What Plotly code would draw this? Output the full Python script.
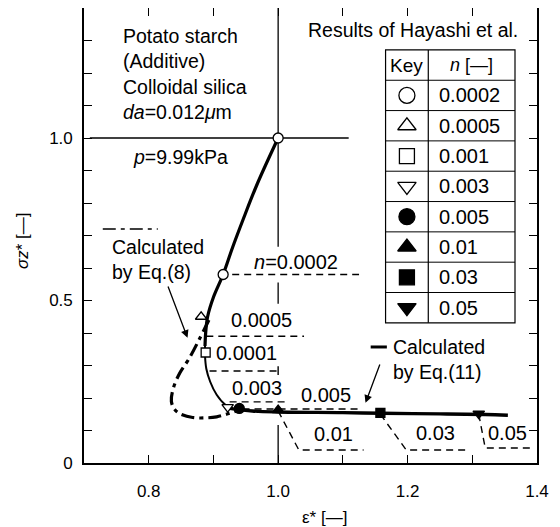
import plotly.graph_objects as go

# ---------------- data ----------------
# Calculated by Eq.(11) (solid curve), split by drawn thickness
eq11_upper_x = [1.0, 0.968, 0.946, 0.929, 0.915, 0.90, 0.891, 0.888, 0.887]
eq11_upper_y = [1.0, 0.86, 0.75, 0.66, 0.58, 0.51, 0.45, 0.40, 0.36]
eq11_bend_x = [0.887, 0.887, 0.889, 0.895, 0.905, 0.918, 0.93]
eq11_bend_y = [0.36, 0.33, 0.29, 0.25, 0.21, 0.18, 0.168]
eq11_flat_x = [0.925, 0.96, 1.0, 1.1, 1.16, 1.25, 1.32, 1.355]
eq11_flat_y = [0.168, 0.16, 0.157, 0.155, 0.153, 0.151, 0.149, 0.147]

# Calculated by Eq.(8) (dash-dot curve)
eq8_x = [0.893, 0.878, 0.862, 0.848, 0.838, 0.835, 0.84, 0.848, 0.868, 0.89, 0.905, 0.92, 0.935]
eq8_y = [0.44, 0.38, 0.32, 0.277, 0.23, 0.19, 0.165, 0.152, 0.14, 0.139, 0.142, 0.15, 0.16]

# Results of Hayashi et al. (experimental points), one per n
n_labels = ["0.0002", "0.0005", "0.001", "0.003", "0.005", "0.01", "0.03", "0.05"]
exp_x = [[1.0, 0.915], [0.881], [0.888], [0.922], [0.94], [1.0], [1.158], [1.31]]
exp_y = [[1.0, 0.58], [0.45], [0.34], [0.172], [0.168], [0.163], [0.154], [0.152]]
symbols = ["circle", "triangle-up", "square", "triangle-down",
           "circle", "triangle-up", "square", "triangle-down"]
filled = [False, False, False, False, True, True, True, True]

# reference lines eps*=1.0 and sigma*=1.0
ref_v_x = [1.0, 1.0, None, 1.0, 1.0, None, 1.0, 1.0]
ref_v_y = [1.4, 0.665, None, 0.555, 0.49, None, 0.117, 0.0]
ref_h_x = [0.709, 1.109]
ref_h_y = [1.0, 1.0]

# leader lines (dashed) for n labels
leader_x = [[0.929, 1.125], [0.889, 1.04], [0.894, 0.998], [0.925, 1.012], [0.945, 1.125],
            [1.0, 1.032, 1.132], [1.158, 1.198, 1.294], [1.31, 1.32, 1.394]]
leader_y = [[0.58, 0.58], [0.39, 0.39], [0.283, 0.283], [0.188, 0.188], [0.166, 0.166],
            [0.16, 0.04, 0.04], [0.15, 0.04, 0.04], [0.15, 0.046, 0.046]]
tick_x = [1.0, 1.0]
tick_y = [0.298, 0.271]

leader_text = ["<i>n</i>=0.0002", "0.0005", "0.0001", "0.003", "0.005", "0.01", "0.03", "0.05"]
leader_text_x = [1.028, 0.975, 0.951, 0.968, 1.074, 1.086, 1.243, 1.354]
leader_text_y = [0.618, 0.44, 0.338, 0.231, 0.209, 0.089, 0.092, 0.092]

x_tickvals = [0.8, 0.9, 1.0, 1.1, 1.2, 1.3, 1.4]
x_ticktext = ["0.8", "", "1.0", "", "1.2", "", "1.4"]
y_tickvals = [0.0, 0.1, 0.2, 0.3, 0.4, 0.5, 0.6, 0.7, 0.8, 0.9, 1.0, 1.1, 1.2, 1.3]
y_ticktext = ["0", "", "", "", "", "0.5", "", "", "", "", "1.0", "", "", ""]

# key table geometry (data units)
table_x = [1.166, 1.232, 1.366]
table_top = 1.271
row_h = 0.0933

FONT = "Liberation Sans"
fig = go.Figure()

def line(x, y, width, dash="solid", shape="linear"):
    fig.add_trace(go.Scatter(x=x, y=y, mode="lines", showlegend=False, hoverinfo="skip",
                             line=dict(color="black", width=width, dash=dash, shape=shape)))

line(ref_v_x, ref_v_y, 1.3)
line(ref_h_x, ref_h_y, 1.3)
for lx, ly in zip(leader_x, leader_y):
    line(lx, ly, 1.4, dash="7px,5px")
line(tick_x, tick_y, 1.4)

line(eq8_x, eq8_y, 3.2, dash="13px,5px,4px,5px", shape="spline")
line(eq11_upper_x, eq11_upper_y, 3.2, shape="spline")
line(eq11_bend_x, eq11_bend_y, 2.0, shape="spline")
line(eq11_flat_x, eq11_flat_y, 3.4, shape="spline")

for i in range(len(n_labels)):
    fig.add_trace(go.Scatter(
        x=exp_x[i], y=exp_y[i], mode="markers", showlegend=False, hoverinfo="skip",
        marker=dict(symbol=symbols[i], size=10 if symbols[i] != "square" else 9,
                    color="black" if filled[i] else "white",
                    line=dict(color="black", width=1.3))))

# key table
shapes = []
n_rows = len(n_labels) + 1
bottom = table_top - n_rows * row_h
shapes.append(dict(type="rect", xref="x", yref="y", x0=table_x[0], x1=table_x[2],
                   y0=bottom, y1=table_top, line=dict(color="black", width=1.2),
                   fillcolor="rgba(0,0,0,0)", layer="above"))
shapes.append(dict(type="line", xref="x", yref="y", x0=table_x[1], x1=table_x[1],
                   y0=bottom, y1=table_top, line=dict(color="black", width=1.2)))
for r in range(1, n_rows):
    yy = table_top - r * row_h
    shapes.append(dict(type="line", xref="x", yref="y", x0=table_x[0], x1=table_x[2],
                       y0=yy, y1=yy, line=dict(color="black", width=1.0)))

key_cx = (table_x[0] + table_x[1]) / 2
row_centers = [table_top - (r + 1.5) * row_h for r in range(len(n_labels))]
for i in range(len(n_labels)):
    fig.add_trace(go.Scatter(
        x=[key_cx], y=[row_centers[i]], mode="markers", showlegend=False, hoverinfo="skip",
        marker=dict(symbol=symbols[i], size=16 if symbols[i] != "square" else 15,
                    color="black" if filled[i] else "white",
                    line=dict(color="black", width=1.3))))

ann = []
def txt(x, y, s, size=19, xanchor="center", yanchor="middle", align="center", xref="x", yref="y", angle=0):
    ann.append(dict(x=x, y=y, xref=xref, yref=yref, text=s, showarrow=False,
                    xanchor=xanchor, yanchor=yanchor, align=align, textangle=angle,
                    font=dict(family=FONT, size=size, color="black")))

hdr_y = table_top - 0.5 * row_h
txt(key_cx, hdr_y, "Key", 19)
txt((table_x[1] + table_x[2]) / 2, hdr_y, "<i>n</i> [—]", 18)
for i, lab in enumerate(n_labels):
    txt(table_x[1] + 0.013, row_centers[i], lab, 20, xanchor="left")

txt(0.757, 1.197, "Potato starch<br>(Additive)<br>Colloidal silica<br><i>da</i>=0.012<i>μ</i>m",
    19.5, xanchor="left", align="left")
txt(0.849, 0.942, "<i>p</i>=9.99kPa", 19.5)
txt(1.043, 1.332, "Results of Hayashi et al.", 19.5, xanchor="left")

for s, x, y in zip(leader_text, leader_text_x, leader_text_y):
    txt(x, y, s, 20)

# Eq.(8) label
line([0.729, 0.814], [0.72, 0.72], 1.6, dash="13px,5px,4px,5px")
txt(0.740, 0.627, "Calculated<br>by Eq.(8)", 19.5, xanchor="left", align="left")
ann.append(dict(x=0.86, y=0.385, ax=0.829, ay=0.548, xref="x", yref="y", axref="x", ayref="y",
                text="", showarrow=True, arrowhead=2, arrowsize=1.2, arrowwidth=1.3, arrowcolor="black"))
# Eq.(11) label
line([1.143, 1.168], [0.357, 0.357], 3.0)
txt(1.175, 0.317, "Calculated<br>by Eq.(11)", 19.5, xanchor="left", align="left")
ann.append(dict(x=1.135, y=0.185, ax=1.158, ay=0.308, xref="x", yref="y", axref="x", ayref="y",
                text="", showarrow=True, arrowhead=2, arrowsize=1.2, arrowwidth=1.3, arrowcolor="black"))

# axis titles
txt(0.532, -0.119, "ε* [—]", 17, xref="paper", yref="paper")
txt(-0.137, 0.49, "<i>σz</i>* [—]", 17, xref="paper", yref="paper", angle=-90)

axis_common = dict(showgrid=False, zeroline=False, showline=True, mirror="allticks",
                   linecolor="black", linewidth=1.6, ticks="inside", ticklen=8, tickwidth=1.4,
                   tickcolor="black", tickfont=dict(family=FONT, size=17, color="black"))
fig.update_layout(
    width=560, height=527, margin=dict(l=76, r=31, t=0, b=72, autoexpand=False),
    plot_bgcolor="white", paper_bgcolor="white",
    xaxis=dict(range=[0.7, 1.4], tickvals=x_tickvals, ticktext=x_ticktext,
               ticklabelstandoff=12, automargin=False, **axis_common),
    yaxis=dict(range=[0, 1.4], tickvals=y_tickvals, ticktext=y_ticktext,
               ticklabelstandoff=6, automargin=False, **axis_common),
    shapes=shapes, annotations=ann, font=dict(family=FONT, color="black"),
)
fig.write_html("out.html")
